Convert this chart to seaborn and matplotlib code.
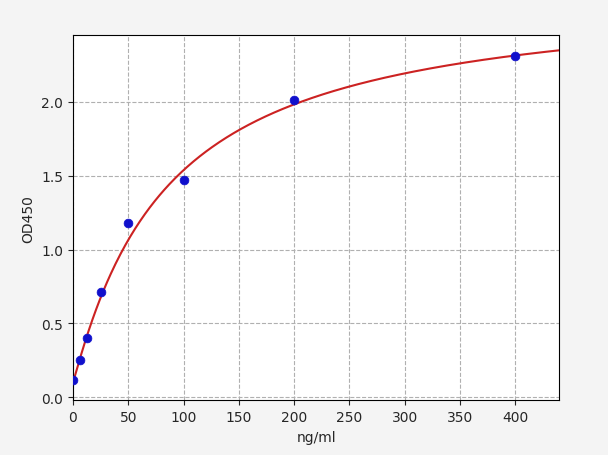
import numpy as np
import matplotlib
matplotlib.use("Agg")
import matplotlib.pyplot as plt
import seaborn as sns

conc = [0, 6.25, 12.5, 25, 50, 100, 200, 400]
od = [0.12, 0.25, 0.40, 0.71, 1.18, 1.47, 2.01, 2.31]
# 4PL fit parameters (estimated)
A, B, C, D = 0.1, 1.05, 85.0, 2.75

sns.set_style("white")
fig, ax = plt.subplots(figsize=(6.08, 4.56), dpi=100)
fig.patch.set_facecolor("#f4f4f4")
xs = np.linspace(0, 440, 400)
ys = D + (A - D) / (1 + (xs / C) ** B)
sns.lineplot(x=xs, y=ys, ax=ax, color="#cc2222", linewidth=1.5)
sns.scatterplot(x=conc, y=od, ax=ax, color="#1010cc", s=40, edgecolor="#1010cc", zorder=3)
ax.set_xlim(0, 440)
ax.set_ylim(-0.02, 2.45)
ax.set_xticks(range(0, 401, 50))
ax.set_yticks([0, 0.5, 1.0, 1.5, 2.0])
ax.grid(True, linestyle="--", color="#b0b0b0", linewidth=0.8)
for s in ax.spines.values():
    s.set_color("black")
    s.set_linewidth(0.8)
ax.tick_params(direction="out", length=3.5, labelsize=10, bottom=True, left=True)
ax.set_xlabel("ng/ml", fontsize=10)
ax.set_ylabel("OD450", fontsize=10)
plt.subplots_adjust(left=0.12, right=0.92, top=0.92, bottom=0.12)
fig.savefig("out.png", dpi=100, facecolor=fig.get_facecolor())
